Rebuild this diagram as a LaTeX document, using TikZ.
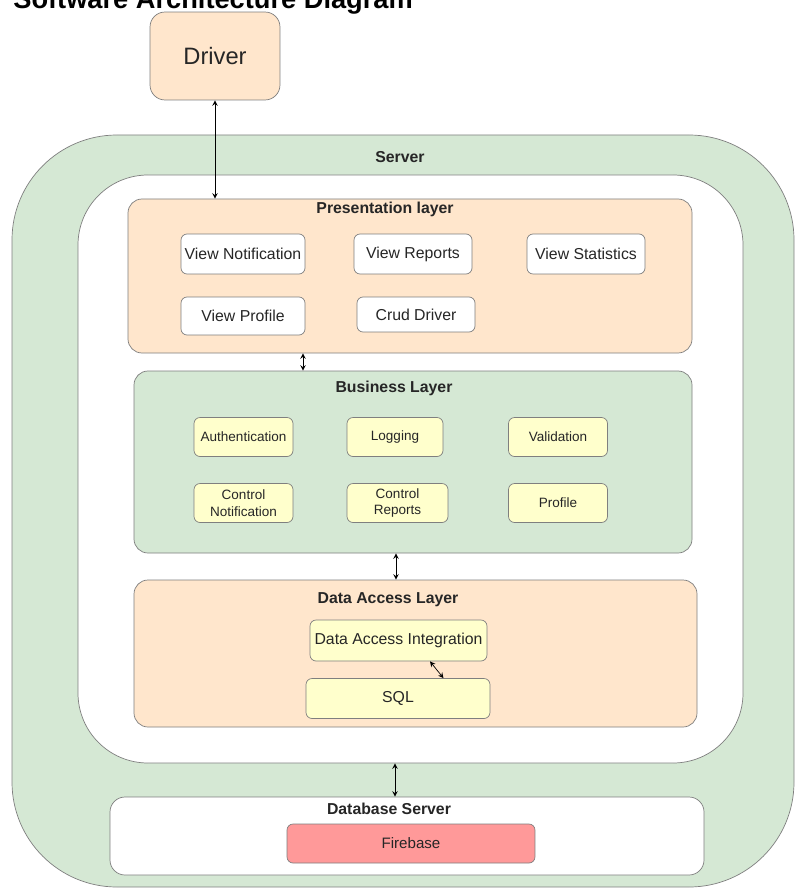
\documentclass[tikz,border=0pt]{standalone}
\usepackage{fontspec}
\setmainfont{Liberation Sans}
\usetikzlibrary{fit,positioning}
\definecolor{peach}{HTML}{FFE6CC}
\definecolor{sage}{HTML}{D5E8D4}
\definecolor{butter}{HTML}{FFFFCC}
\definecolor{rose}{HTML}{FF9999}
\definecolor{edgegray}{HTML}{7F7F7F}
\definecolor{ink}{HTML}{262626}
\tikzset{
  layer/.style={draw=edgegray,rounded corners=0.28cm,inner sep=0pt},
  layertitle/.style={text=ink,font=\bfseries\fontsize{9}{11}\selectfont,inner sep=0pt},
  viewbox/.style={draw=edgegray,fill=white,text=ink,rounded corners=0.12cm,
    font=\fontsize{9}{11}\selectfont,inner sep=0pt,minimum height=0.8cm},
  itembox/.style={draw=edgegray,fill=butter,text=ink,rounded corners=0.12cm,
    font=\fontsize{7.7}{9.4}\selectfont,align=center,inner sep=0pt,
    minimum width=1.98cm,minimum height=0.78cm},
  link/.style={thin,black,stealth-stealth},
}
\NewDocumentCommand\DrawLayer{O{}mm}%
{%
\node[layer,fit={#3},#1] (#2) {};%
}

\begin{document}
\begin{tikzpicture}[x=0.02cm,y=-0.02cm]
\useasboundingbox (0,0) rectangle (795,888);
\clip (0,0) rectangle (795,888);
% title, cut off at the top of the picture
\node[anchor=base west,inner sep=0pt,text=black,
  font=\bfseries\fontsize{15.5}{17}\selectfont] (title) at (13,9) {Software Architecture Diagram};
\node[draw=edgegray,fill=peach,text=ink,rounded corners=0.3cm,minimum width=2.6cm,
  minimum height=1.76cm,font=\fontsize{13.5}{16}\selectfont] (driver) at (215,56) {Driver};
% server with its layers
\DrawLayer[fill=sage,rounded corners=2.1cm]{server}{(12,135) (794,887)}
\node[layertitle] (servertitle) at (400,157) {Server};
\DrawLayer[fill=white,rounded corners=1.4cm]{inner}{(78,175) (743,763)}
\DrawLayer[fill=peach]{pres}{(128,199) (692,353)}
\node[layertitle] (prestitle) at (385,209) {Presentation layer};
\node[viewbox,minimum width=2.48cm] (vnotif) at (243,254) {View Notification};
\node[viewbox,minimum width=2.36cm] (vrep) at (413,254) {View Reports};
\node[viewbox,minimum width=2.36cm] (vstat) at (586,254) {View Statistics};
\node[viewbox,minimum width=2.48cm,minimum height=0.76cm] (vprof) at (243,316) {View Profile};
\node[viewbox,minimum width=2.36cm,minimum height=0.7cm] (crud) at (416,314.5) {Crud Driver};
\DrawLayer[fill=sage]{bus}{(134,371) (692,553)}
\node[layertitle] (bustitle) at (394,388) {Business Layer};
\node[itembox] (auth) at (243.5,437) {Authentication};
\node[itembox,minimum width=1.92cm] (logging) at (395,437) {Logging};
\node[itembox] (valid) at (558,437) {Validation};
\node[itembox] (cnotif) at (243.5,503) {Control\\Notification};
\node[itembox,minimum width=2.02cm] (crep) at (397.5,503) {Control\\Reports};
\node[itembox] (profile) at (558,503) {Profile};
\DrawLayer[fill=peach]{dal}{(134,580) (697,727)}
\node[layertitle] (daltitle) at (388,600) {Data Access Layer};
\node[itembox,minimum width=3.54cm,minimum height=0.82cm,
  font=\fontsize{9}{11}\selectfont] (dai) at (398.5,640.5) {Data Access Integration};
\node[itembox,minimum width=3.68cm,minimum height=0.8cm,
  font=\fontsize{9}{11}\selectfont] (sql) at (398,698.5) {SQL};
% database server
\DrawLayer[fill=white,rounded corners=0.3cm]{db}{(110,797) (704,875)}
\node[layertitle] (dbtitle) at (389,809) {Database Server};
\node[draw=edgegray,fill=rose,text=ink,rounded corners=0.12cm,inner sep=0pt,
  minimum width=4.96cm,minimum height=0.78cm,
  font=\fontsize{8.6}{10}\selectfont] (firebase) at (411,843.5) {Firebase};
% links
\coordinate (pbx) at (303,0);
\coordinate (bdx) at (396,0);
\coordinate (idx) at (395,0);
\draw[link] (driver.south) -- (driver.south |- pres.north);
\draw[link] (pres.south -| pbx) -- (bus.north -| pbx);
\draw[link] (bus.south -| bdx) -- (dal.north -| bdx);
\draw[link] ([xshift=0.63cm]dai.south) -- ([xshift=0.91cm]sql.north);
\draw[link] (inner.south -| idx) -- (db.north -| idx);
\end{tikzpicture}
\end{document}
